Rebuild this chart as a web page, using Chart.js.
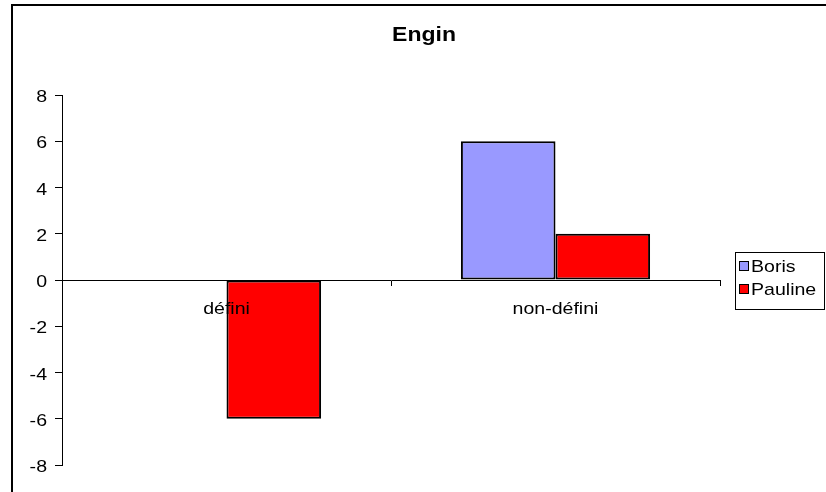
<!DOCTYPE html>
<html>
<head>
<meta charset="utf-8">
<script src="https://cdn.jsdelivr.net/npm/chart.js@4.4.0/dist/chart.umd.min.js"></script>
<style>
  html, body { margin: 0; padding: 0; background: #fff; }
  #wrap { width: 826px; height: 492px; }
</style>
</head>
<body>
<div id="wrap"><canvas id="chart" width="826" height="492"></canvas></div>
<script>
const categories = ["défini", "non-défini"];
const borisValues = [0, 6];
const paulineValues = [-6, 2];
const seriesNames = ["Boris", "Pauline"];
const yTicks = [-8, -6, -4, -2, 0, 2, 4, 6, 8];

const seriesColors = ["#9999FF", "#FF0000"];
const font = "Liberation Sans, Arial, sans-serif";
const stretch = 1.15; // the original text is a bit wider than plain Arial

function wideText(ctx, text, x, y, align) {
  ctx.save();
  ctx.translate(x, y);
  ctx.scale(stretch, 1);
  ctx.textAlign = align;
  ctx.fillText(text, 0, 0);
  ctx.restore();
}

// title, frame, legend and the tick labels (on top of the bars)
const decorations = {
  id: "decorations",
  afterDraw(chart) {
    const ctx = chart.ctx;
    ctx.save();
    ctx.strokeStyle = "#000";
    ctx.lineWidth = 2;
    ctx.strokeRect(12, 5, 830, 500);

    ctx.fillStyle = "#000";
    ctx.textBaseline = "alphabetic";
    ctx.font = "bold 20px " + font;
    wideText(ctx, "Engin", 424, 41, "center");

    ctx.font = "17px " + font;
    const ys = chart.scales.y;
    ys.ticks.forEach((t, i) => {
      wideText(ctx, t.label, 47, ys.getPixelForTick(i) + 7, "right");
    });
    const xs = chart.scales.x;
    xs.ticks.forEach((t, i) => {
      wideText(ctx, t.label, xs.getPixelForTick(i), 314, "center");
    });

    ctx.lineWidth = 1;
    ctx.strokeRect(735.5, 252.5, 89, 57);
    chart.data.datasets.forEach((ds, i) => {
      const y = 266 + i * 23;
      ctx.fillStyle = ds.backgroundColor;
      ctx.fillRect(740, y - 4, 8, 8);
      ctx.strokeStyle = "#000";
      ctx.strokeRect(739.5, y - 4.5, 9, 9);
      ctx.fillStyle = "#000";
      wideText(ctx, ds.label, 751, y + 6, "left");
    });
    ctx.restore();
  }
};

new Chart(document.getElementById("chart"), {
  type: "bar",
  plugins: [decorations],
  data: {
    labels: categories,
    datasets: [
      {
        label: seriesNames[0],
        data: borisValues,
        backgroundColor: seriesColors[0],
        borderColor: "#000",
        borderWidth: 2,
        borderSkipped: false,
      },
      {
        label: seriesNames[1],
        data: paulineValues,
        backgroundColor: seriesColors[1],
        borderColor: "#000",
        borderWidth: 2,
        borderSkipped: false,
      },
    ],
  },
  options: {
    responsive: false,
    animation: false,
    devicePixelRatio: 1,
    layout: { padding: { left: 11, top: 95, right: 106, bottom: 27 } },
    datasets: { bar: { categoryPercentage: 0.575, barPercentage: 1 } },
    plugins: {
      legend: { display: false },
      title: { display: false },
      tooltip: { enabled: false },
    },
    scales: {
      x: {
        position: { y: 0 },
        grid: { drawOnChartArea: false, tickLength: 5, color: "#000", offset: true },
        border: { color: "#000", width: 1 },
        ticks: { display: false },
      },
      y: {
        min: -8,
        max: 8,
        afterFit: (scale) => { scale.width = 51; },
        afterBuildTicks: (scale) => { scale.ticks = yTicks.map((v) => ({ value: v })); },
        grid: { drawOnChartArea: false, tickLength: 7, color: "#000" },
        border: { color: "#000", width: 1 },
        ticks: { display: false },
      },
    },
  },
});
</script>
</body>
</html>
